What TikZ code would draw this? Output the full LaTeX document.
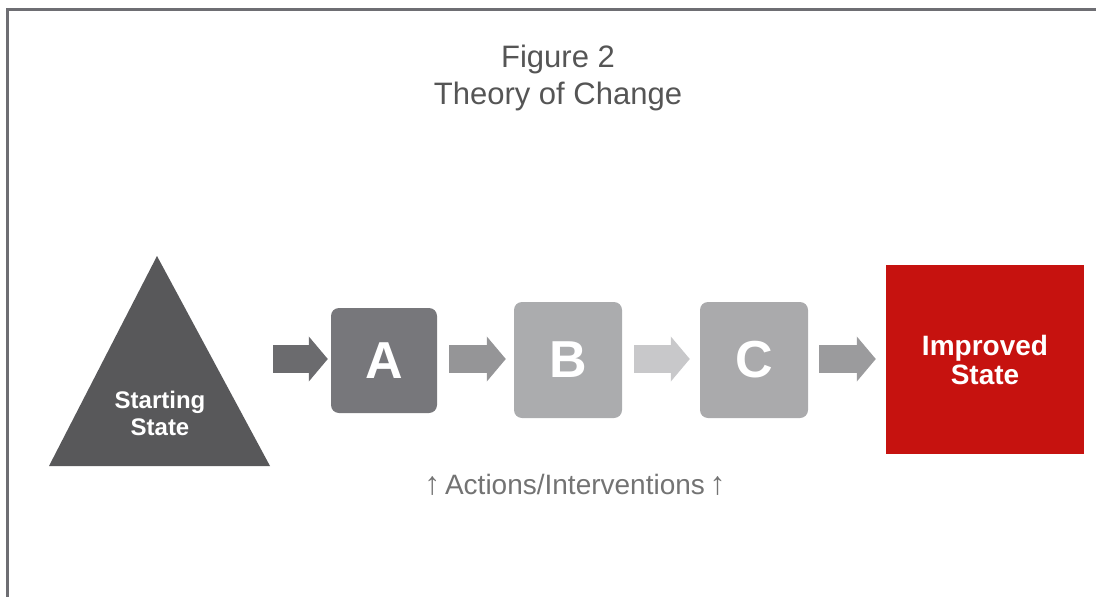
\documentclass[tikz,border=0pt]{standalone}
\usepackage{fontspec}
\setmainfont{Liberation Sans}
\usetikzlibrary{arrows.meta}

\definecolor{framegray}{HTML}{6E6E73}
\definecolor{titlegray}{HTML}{555555}
\definecolor{notegray}{HTML}{737373}
\definecolor{startgray}{HTML}{58585A}
\definecolor{agray}{HTML}{77777B}
\definecolor{bgray}{HTML}{ABACAE}
\definecolor{cgray}{HTML}{AAAAAC}
\definecolor{improvedred}{HTML}{C6120F}
\definecolor{arrowone}{HTML}{6B6B6E}
\definecolor{arrowtwo}{HTML}{959597}
\definecolor{arrowthree}{HTML}{C8C8CA}
\definecolor{arrowfour}{HTML}{9B9B9D}

\tikzset{
  stagebox/.style={rounded corners=8pt, minimum width=106pt, minimum height=106pt,
    text=white, font=\bfseries\fontsize{52}{52}\selectfont},
  statelabel/.style={text=white, align=center, font=\bfseries\fontsize{28}{29}\selectfont},
  bigarrow/.style={line width=28pt, draw=#1, -{Triangle[length=19pt,width=44pt]}}
}
\newcommand{\uparr}{{\fontsize{32}{27}\selectfont↑}}

\begin{document}
\begin{tikzpicture}[x=1pt, y=-1pt]
  \useasboundingbox (0,0) rectangle (1096,597);
  \draw[framegray, line width=3.5pt] (7.5,597) -- (7.5,9.5) -- (1096,9.5);

  % title
  \node[text=titlegray, align=center, font=\fontsize{31}{37}\selectfont] (title) at (558,78)
    {Figure 2\\Theory of Change};

  % starting state
  \fill[startgray] (157,256) -- (49,466) -- (270,466) -- cycle;
  \node[statelabel, font=\bfseries\fontsize{24}{27}\selectfont] (start) at (160,413) {Starting\\State};
  \coordinate (startout) at (273,359);

  % actions
  \node[stagebox, fill=agray, minimum width=106pt, minimum height=105pt] (a) at (384,360.5) {A};
  \node[stagebox, fill=bgray, minimum width=108pt, minimum height=116pt] (b) at (568,360) {B};
  \node[stagebox, fill=cgray, minimum width=108pt, minimum height=116pt] (c) at (754,360) {C};

  % improved state
  \node[statelabel, fill=improvedred, minimum width=198pt, minimum height=189pt] (improved) at (985,359.5) {Improved\\State};

  \draw[bigarrow=arrowone, shorten >=3pt] (startout) -- (a.west |- startout);
  \draw[bigarrow=arrowtwo, shorten <=12pt, shorten >=8pt] (a.east |- startout) -- (b.west |- startout);
  \draw[bigarrow=arrowthree, shorten <=12pt, shorten >=10pt] (b.east |- startout) -- (c.west |- startout);
  \draw[bigarrow=arrowfour, shorten <=11pt, shorten >=10pt] (c.east |- startout) -- (improved.west |- startout);

  \node[text=notegray, font=\fontsize{28}{28}\selectfont] (actions) at (575,485) {\uparr\,Actions/Interventions\,\uparr};
\end{tikzpicture}
\end{document}
